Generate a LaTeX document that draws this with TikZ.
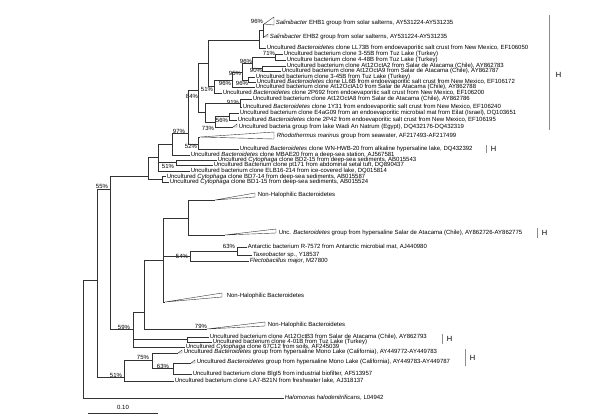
\documentclass[tikz,border=0pt]{standalone}
\usepackage{fontspec}
\setmainfont{Liberation Sans}
\usetikzlibrary{
  arrows,
  shapes
}

\begin{document}
\begin{tikzpicture}[
    x=1pt, y=-1pt,
  every node/.style = {inner sep=0.8pt, outer sep=0pt,
    font=\fontsize{6}{6.5}\selectfont},
  br/.style = {draw=black!80, line width=0.4pt}]
    \tikzstyle{leaf}=[anchor=west]
    \tikzstyle{boot}=[inner sep=0pt]
    \tikzstyle{hbar}=[draw=black!45, line width=0.6pt]
    \tikzstyle{hmark}=[anchor=west, font=\fontsize{7.5}{8}\selectfont]
    \useasboundingbox (0,0) rectangle (600,416);

    \foreach \n/\x/\y in {nSal/263/30.5, nS2/259/40, n71/275/57, n90/262/68.5,
        n96a/252/63, n96b/248/80, n95/242/72, n96c/232/80, n51/214/86,
        nS/208/63, n91/240/103, n56/229/116, n73/215/122, nLo/205/112,
        n84/198/90, n188/188/133, n198/198/144, n172/172/144, n175/176/162.5,
        n158/158/157, n162/162/179.5, n148/148/176, n110/110/189, n97/97/280,
        root/83/280, n133/133/329, n144/144/312, n163/163/260, n188b/188/218,
        n190/190/256, n237/237/251, n187/187/339.5, n124/124/377, n152/152/360,
        n173/173/368,
        tEHB1/264/24, tEHB2/264/37, tWadi/233/127, tRho/200/137, tNH1/215/200,
        tUnc/225/235, tNH3/165/302, tNH4/207/329, tMo1/178/353, tMo2/191/363}
      \coordinate (\n) at (\x,\y);

    \foreach \n/\x/\y/\t in {
        lEHB1/275/23/{\textit{Salinibacter} EHB1 group from solar salterns, AY531224-AY531235},
        lEHB2/269/37/{\textit{Salinibacter} EHB2 group from solar salterns, AY531224-AY531235},
        lLL73/266/48/{Uncultured \textit{Bacteroidetes} clone LL73B from endoevaporitic salt crust from New Mexico, EF106050},
        l355/283/54/{Uncultured bacterium clone 3-55B from Tuz Lake (Turkey)},
        l448/286/60/{Unculture bacterium clone 4-48B from Tuz Lake (Turkey)},
        lA2/286/66/{Uncultured bacterium clone At12OctA2 from Salar de Atacama (Chile), AY862783},
        lA9/281/71/{Uncultured bacterium clone At12OctA9 from Salar de Atacama (Chile), AY862787},
        l345/255/77/{Uncultured bacterium clone 3-45B from Tuz Lake (Turkey)},
        lLL6/256/82/{Uncultured \textit{Bacteroidetes} clone LL6B from endoevaporitic salt  crust from New Mexico, EF106172},
        lA10/255/87/{Uncultured bacterium clone At12OctA10 from Salar de Atacama (Chile), AY862788},
        l2P692/222/93/{Uncultured \textit{Bacteroidetes} clone 2P692 from endoevaporitic salt crust from New Mexico, EF106200},
        lA8/252/99/{Uncultured bacterium clone At12OctA8 from Salar de Atacama (Chile), AY862786},
        l1Y31/242/107/{Uncultured \textit{Bacteroidetes} clone 1Y31 from endoevaporitic salt crust from New Mexico, EF106240},
        lE4a/239/113/{Uncultured bacterium clone E4aG09 from an endoevaporitic microbial mat from Eilat (Israel), DQ103651},
        l2P42/237/120/{Uncultured \textit{Bacteroidetes} clone 2P42 from endoevaporitic salt crust from New Mexico, EF106195},
        lWadi/238/127/{Uncultured bacteria group from lake Wadi An Natrum (Egypt), DQ432176-DQ432319},
        lRho/276/136/{\textit{Rhodothermus marinus} group from seawater, AF217493-AF217499},
        lWN/239/149/{Uncultured \textit{Bacteroidetes} clone WN-HWB-20 from alkaline hypersaline lake, DQ432392},
        lMB/190/155/{Uncultured \textit{Bacteroidetes} clone MBAE20 from a deep-sea station, AJ567581},
        lBD2/217/160/{Uncultured \textit{Cytophaga} clone BD2-15 from deep-sea sediments, AB015543},
        lpt/213/165/{Uncultured Bacterium clone pt171 from abdominal setal tuft, DQ890437},
        lELB/190/171/{Uncultured bacterium clone ELB16-214 from ice-covered lake, DQ015814},
        lBD7/166/176.5/{Uncultured \textit{Cytophaga} clone BD7-14 from deep-sea sediments, AB015587},
        lBD1/169/182/{Uncultured \textit{Cytophaga} clone BD1-15 from deep-sea sediments, AB015524},
        lNH1/257/195/{Non-Halophilic Bacteroidetes},
        lUnc/278/233/{Unc. \textit{Bacteroidetes} group from hypersaline Salar de Atacama (Chile), AY862726-AY862775},
        lAnt/247/247/{Antarctic bacterium R-7572 from Antarctic microbial mat, AJ440980},
        lTax/252/255/{\textit{Taxeobacter} sp., Y18537},
        lFle/249/261/{\textit{Flectobacillus major}, M27800},
        lNH3/226/296/{Non-Halophilic Bacteroidetes},
        lNH4/267/325/{Non-Halophilic Bacteroidetes},
        lB3/209/337/{Uncultured bacterium clone At12OctB3 from Salar de Atacama (Chile), AY862793},
        l401/212/342/{Uncultured bacterium clone 4-01B from Tuz Lake (Turkey)},
        l67/185/347/{Uncultured \textit{Cytophaga} clone 67C12 from soils, AF245039},
        lMo1/183/352/{Uncultured \textit{Bacteroidetes} group from hypersaline Mono Lake (California), AY449772-AY449783},
        lMo2/196/362/{Uncultured \textit{Bacteroidetes} group from hypersaline Mono Lake (California), AY449783-AY449787},
        lBlg/192/374/{Uncultured bacterium clone BlgI5 from industrial biofilter, AF513957},
        lLA7/174/381/{Uncultured bacterium clone LA7-B21N from freshwater lake, AJ318137},
        lHalo/284/398/{\textit{Halomonas halodenitrificans}, L04942}}
      \node[leaf] (\n) at (\x,\y) {\t};

    \foreach \n/\x/\y/\v in {b1/257/21/96, b2/269/53/71, b3/246/61/96, b4/256/70/90,
        b5/235/73/95, b6/242/83/96, b7/225/83/96, b8/207/89/51, b9/192/96/84,
        b10/233/102/91, b11/222/120/56, b12/208/128/73, b13/179/131/97,
        b14/191/146/52, b15/168/166/51, b16/102/186/55, b17/229/246/63,
        b18/182/256/54, b19/201/326/79, b20/124/327/59, b21/143/357/75,
        b22/163/366/63, b23/116/375/51}
      \node[boot] (\n) at (\x,\y) {\v\%};

    \foreach \p/\c in {nS2/nSal, n96a/n71, n96a/n90, n95/n96a, n95/n96b,
        n96c/n95, n51/n96c, nS/nS2, nS/n51, nLo/n91, nLo/n73, n73/n56,
        n84/nS, n84/nLo, n188/n84, n188/n198, n172/n188, n158/n172, n158/n175,
        n148/n158, n148/n162, n110/n148, n110/n133, n97/n110, n97/n124,
        root/n97, n133/n144, n133/n187, n144/n163, n163/n188b, n163/n190,
        n190/n237, n124/n152, n152/n173,
        nSal/tEHB1, nSal/tEHB2, n73/tWadi, n198/tRho, n188b/tNH1, n188b/tUnc,
        n163/tNH3, n144/tNH4, n152/tMo1, n173/tMo2}
      \draw[br] (\p) |- (\c);

    \foreach \p/\c in {nS2/lLL73, n71/l355, n71/l448, n90/lA2, n90/lA9,
        n96b/l345, n96b/lLL6, n96c/lA10, n51/l2P692, n91/lA8, n91/l1Y31,
        n56/lE4a, n56/l2P42, n198/lWN, n172/lMB, n175/lBD2, n175/lpt,
        n158/lELB, n162/lBD7, n162/lBD1, n237/lAnt, n237/lTax, n190/lFle,
        n187/lB3, n187/l401, n133/l67, n173/lBlg, n124/lLA7, root/lHalo}
      \draw[br] (\p) |- (\c.west);

    \foreach \t/\dx/\a/\h in {tEHB1/10/-7/8, tEHB2/4/-3/3, tWadi/4/-3/3,
        tRho/74/-5/7, tNH1/40/-7/4, tUnc/51/-6/4, tNH3/57/-9/4, tNH4/58/-7/4,
        tMo1/4/-3/3, tMo2/4/-3/3}
      \draw[br] (\t) -- ++(\dx,\a) -- ++(0,\h) -- cycle;

    \draw[hbar] (549,15) -- (549,130);
    \draw[hbar] (486,145) -- (486,153);
    \draw[hbar] (537,228) -- (537,238);
    \draw[hbar] (442,334) -- (442,344);
    \draw[hbar] (465,349) -- (465,366);
    \node[hmark] (h1) at (555,75) {H};
    \node[hmark] (h2) at (490,149) {H};
    \node[hmark] (h3) at (541,233) {H};
    \node[hmark] (h4) at (446,339) {H};
    \node[hmark] (h5) at (469,358) {H};

    \coordinate (sc1) at (88,413);
    \coordinate (sc2) at (158,413);
    \draw[br] (sc1) -- (sc2);
    \node (sclab) at (123,407) {0.10};
\end{tikzpicture}
\end{document}
